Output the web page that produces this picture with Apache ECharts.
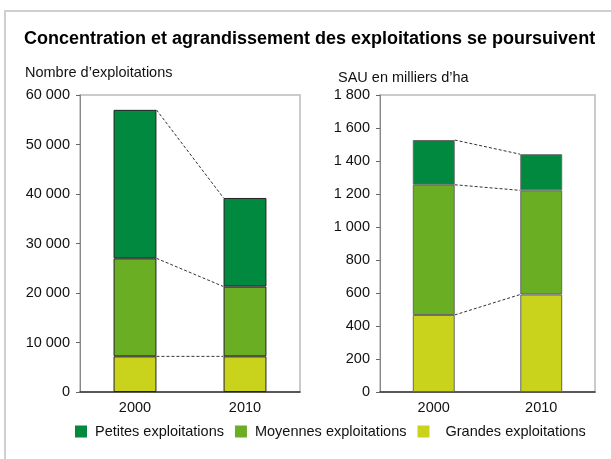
<!DOCTYPE html>
<html>
<head>
<meta charset="utf-8">
<script src="https://cdn.jsdelivr.net/npm/echarts@6/dist/echarts.min.js"></script>
<style>
  html, body { margin: 0; padding: 0; background: #fff; }
  #chart-area { width: 611px; height: 459px; }
</style>
</head>
<body>
<div id="chart-area"></div>
<script>
const years = ['2000', '2010'];
const seriesNames = ['Petites exploitations', 'Moyennes exploitations', 'Grandes exploitations'];

// Nombre d'exploitations
const nbGrandes = [7200, 7200];
const nbMoyennes = [19800, 14100];
const nbPetites = [30000, 17900];

// SAU en milliers d'ha
const sauGrandes = [467, 591];
const sauMoyennes = [789, 631];
const sauPetites = [271, 219];

const colors = {
	petites: '#00893f',
	moyennes: '#6aae24',
	grandes: '#c9d31b'
};

const barPct = 0.39;
const fs = 14.5;

function fmt(v) {
	return String(v).replace(/\B(?=(\d{3})+(?!\d))/g, ' ');
}

function cumul(a, b, c) {
	// cumulative tops for each year: grandes, +moyennes, +petites
	return years.map((_, i) => [a[i], a[i] + b[i], a[i] + b[i] + c[i]]);
}

const nbCum = cumul(nbGrandes, nbMoyennes, nbPetites);
const sauCum = cumul(sauGrandes, sauMoyennes, sauPetites);

function connector(idx, cum) {
	return {
		type: 'custom',
		xAxisIndex: idx,
		yAxisIndex: idx,
		silent: true,
		z: 5,
		data: [[0, 0], [0, 1], [0, 2]],
		renderItem: function (params, api) {
			let level = api.value(1);
			let band = api.size([1, 0])[0];
			let half = band * barPct / 2;
			let p0 = api.coord([0, cum[0][level]]);
			let p1 = api.coord([1, cum[1][level]]);
			return {
				type: 'line',
				shape: { x1: p0[0] + half, y1: p0[1], x2: p1[0] - half, y2: p1[1] },
				style: { stroke: '#333', lineWidth: 1, lineDash: [3, 2] }
			};
		}
	};
}

function bars(idx, g, m, p, border) {
	let base = {
		type: 'bar',
		xAxisIndex: idx,
		yAxisIndex: idx,
		stack: 'tot' + idx,
		barWidth: (barPct * 100) + '%',
		silent: true
	};
	return [
		Object.assign({}, base, { name: seriesNames[2], data: g, itemStyle: { color: colors.grandes, borderColor: border, borderWidth: 1 } }),
		Object.assign({}, base, { name: seriesNames[1], data: m, itemStyle: { color: colors.moyennes, borderColor: border, borderWidth: 1 } }),
		Object.assign({}, base, { name: seriesNames[0], data: p, itemStyle: { color: colors.petites, borderColor: border, borderWidth: 1 } })
	];
}

function xAx(idx) {
	return {
		type: 'category',
		gridIndex: idx,
		data: years,
		axisLine: { lineStyle: { color: '#333', width: 1.5 } },
		axisTick: { show: false },
		axisLabel: { color: '#111', fontSize: fs, margin: 8, fontFamily: 'Liberation Sans' }
	};
}

function yAx(idx, max, interval) {
	return {
		type: 'value',
		gridIndex: idx,
		min: 0,
		max: max,
		interval: interval,
		axisLine: { show: true, lineStyle: { color: '#888', width: 1 } },
		axisTick: { show: true, length: 4, lineStyle: { color: '#666' } },
		splitLine: { show: false },
		axisLabel: { color: '#111', fontSize: fs, margin: 10, fontFamily: 'Liberation Sans', formatter: fmt }
	};
}

let chartDom = document.getElementById('chart-area');
let myChart = echarts.init(chartDom);
let option = {
	animation: false,
	backgroundColor: '#fff',
	textStyle: { fontFamily: 'Liberation Sans' },
	graphic: [{
		type: 'rect',
		shape: { x: 5, y: 11, width: 800, height: 600 },
		style: { fill: 'none', stroke: '#cfcfcf', lineWidth: 2 },
		silent: true
	}],
	title: [
		{
			text: 'Concentration et agrandissement des exploitations se poursuivent',
			left: 24, top: 30, padding: 0,
			textStyle: { fontSize: 18, fontWeight: 'bold', color: '#000', fontFamily: 'Liberation Sans' }
		},
		{
			text: 'Nombre d’exploitations',
			left: 25, top: 65, padding: 0,
			textStyle: { fontSize: fs, fontWeight: 'normal', color: '#111', fontFamily: 'Liberation Sans' }
		},
		{
			text: 'SAU en milliers d’ha',
			left: 338, top: 70, padding: 0,
			textStyle: { fontSize: fs, fontWeight: 'normal', color: '#111', fontFamily: 'Liberation Sans' }
		}
	],
	legend: {
		top: 424,
		left: 75,
		padding: 0,
		itemWidth: 12,
		itemHeight: 12,
		itemGap: 11,
		icon: 'rect',
		itemStyle: { borderWidth: 0 },
		textStyle: { fontSize: fs, color: '#111', fontFamily: 'Liberation Sans', padding: [0, 0, 0, 3] },
		data: [
			{ name: seriesNames[0] },
			{ name: seriesNames[1] },
			{ name: seriesNames[2], textStyle: { padding: [0, 0, 0, 11] } }
		]
	},
	grid: [
		{ left: 80, top: 95, right: 311, bottom: 67, show: true, borderColor: '#bbb', borderWidth: 1.5 },
		{ left: 380, top: 95, right: 16, bottom: 67, show: true, borderColor: '#bbb', borderWidth: 1.5 }
	],
	xAxis: [xAx(0), xAx(1)],
	yAxis: [yAx(0, 60000, 10000), yAx(1, 1800, 200)],
	series: [].concat(
		bars(0, nbGrandes, nbMoyennes, nbPetites, '#222'),
		bars(1, sauGrandes, sauMoyennes, sauPetites, '#666'),
		[connector(0, nbCum), connector(1, sauCum)]
	)
};

option && myChart.setOption(option);
</script>
</body>
</html>
